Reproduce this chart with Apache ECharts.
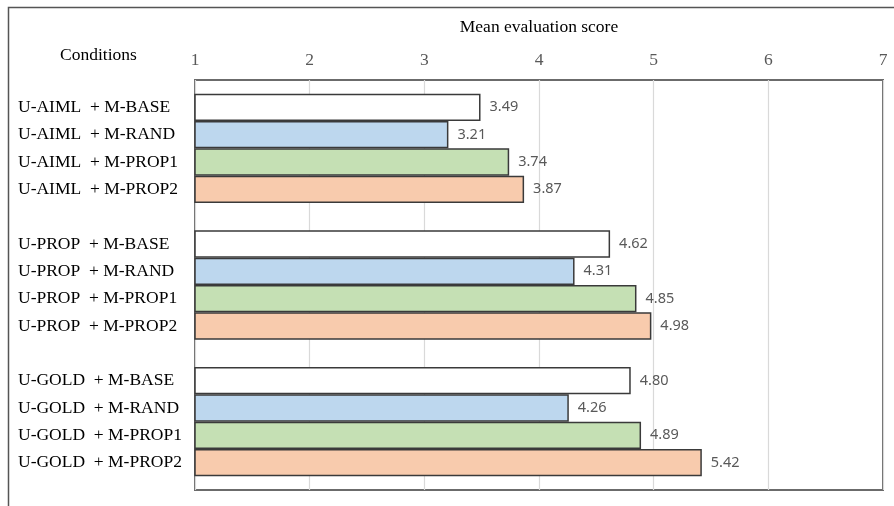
<!DOCTYPE html>
<html>
<head>
<meta charset="utf-8">
<script src="https://cdn.jsdelivr.net/npm/echarts@6/dist/echarts.min.js"></script>
<style>html,body{margin:0;padding:0;background:#fff}#c{width:894px;height:506px}</style>
</head>
<body>
<div id="c"></div>
<script>
const groups = ['U-AIML', 'U-PROP', 'U-GOLD'];
const methods = ['M-BASE', 'M-RAND', 'M-PROP1', 'M-PROP2'];
const aimlScores = [3.49, 3.21, 3.74, 3.87];
const propScores = [4.62, 4.31, 4.85, 4.98];
const goldScores = [4.80, 4.26, 4.89, 5.42];
const xTicks = [1, 2, 3, 4, 5, 6, 7];
const methodColors = ['#FFFFFF', '#BDD7EE', '#C5E0B4', '#F8CBAD'];

const groupScores = [aimlScores, propScores, goldScores];
const categories = [''];
const data = ['-'];
groups.forEach((g, gi) => {
  if (gi > 0) { categories.push(''); data.push('-'); }
  methods.forEach((m, mi) => {
    categories.push(g + '  + ' + m);
    data.push({ value: groupScores[gi][mi], itemStyle: { color: methodColors[mi] } });
  });
});
categories.push(''); data.push('-');

const serif = '"Liberation Serif", "DejaVu Serif", serif';
const chart = echarts.init(document.getElementById('c'), null, { renderer: 'canvas' });
chart.setOption({
  animation: false,
  backgroundColor: '#fff',
  grid: { left: 195, right: 11, top: 80, bottom: 16, show: true, borderColor: '#6b6b6b', borderWidth: 2, backgroundColor: 'transparent' },
  xAxis: {
    type: 'value', position: 'top', min: xTicks[0], max: xTicks[xTicks.length - 1], interval: 1,
    name: 'Mean evaluation score', nameLocation: 'middle', nameGap: 44,
    nameTextStyle: { fontFamily: serif, fontSize: 17.5, color: '#000' },
    axisLine: { show: false }, axisTick: { show: false },
    axisLabel: { fontFamily: serif, fontSize: 17.5, color: '#595959', margin: 11 },
    splitLine: { show: true, lineStyle: { color: '#d9d9d9', width: 1.2 } }
  },
  yAxis: {
    type: 'category', data: categories, inverse: true, boundaryGap: false,
    axisLine: { show: false }, axisTick: { show: false }, splitLine: { show: false },
    axisLabel: { align: 'left', margin: 177, fontFamily: serif, fontSize: 17.5, color: '#000', interval: 0 }
  },
  graphic: [
    { type: 'text', left: 60, top: 46, style: { text: 'Conditions', font: '17.5px ' + serif, fill: '#000' } },
    { type: 'polyline', shape: { points: [[8.5, 506], [8.5, 7.5], [894, 7.5]] }, style: { stroke: '#555', lineWidth: 1.5, fill: null } }
  ],
  series: [{
    type: 'bar', data: data, barWidth: '100%',
    itemStyle: { borderColor: '#3a3a3a', borderWidth: 1.5 },
    label: { show: true, position: 'right', distance: 9, formatter: p => p.value.toFixed(2), fontFamily: '"Noto Sans", sans-serif', fontSize: 14.5, color: '#595959' }
  }]
});
</script>
</body>
</html>
